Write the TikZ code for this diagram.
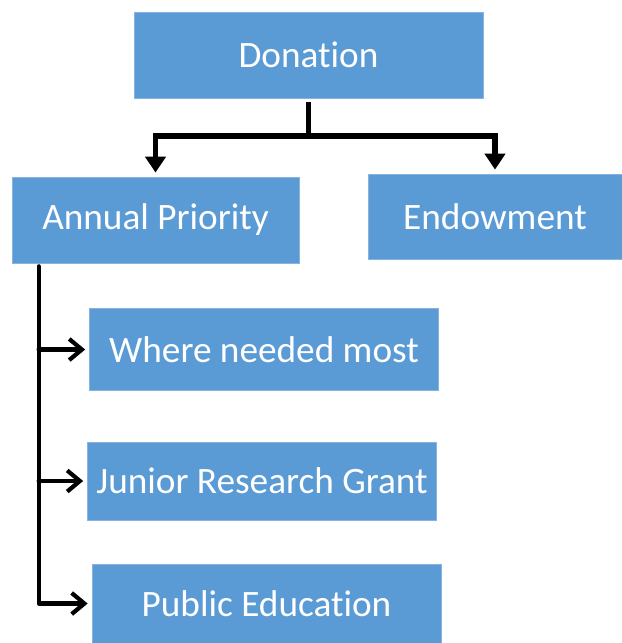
\documentclass[tikz,border=0pt]{standalone}
\usepackage{fontspec}
\setmainfont[Ligatures=NoCommon]{Carlito}
\usepackage{tikz}
\usetikzlibrary{arrows.meta}
\usetikzlibrary{positioning}
\definecolor{boxblue}{RGB}{91,155,213}
\tikzset{every node/.style={font=\fontsize{26.5}{31}\selectfont}}
\tikzset{fundbox/.style={fill=boxblue,draw=boxblue!75!white,line width=0.5pt,
  text=white,inner sep=0pt}}
\tikzset{trunk/.style={line width=3.6pt,line join=miter}}
\tikzset{branch/.style={line width=3pt,line cap=round,line join=round}}

\begin{document}
\begin{tikzpicture}[x=0.025cm,y=-0.025cm]
\useasboundingbox (0,0) rectangle (622,643);

% boxes
\node[fundbox,minimum width=349*0.025cm,minimum height=86*0.025cm] (don) at (308.5,55) {Donation};
\node[fundbox,minimum width=287*0.025cm,minimum height=86*0.025cm] (ann) at (155.5,220) {Annual Priority};
\node[fundbox,minimum width=254*0.025cm,minimum height=85*0.025cm] (endw) at (495,216.5) {Endowment};
\node[fundbox,minimum width=349*0.025cm,minimum height=82*0.025cm] (where) at (264,349.5) {Where needed most};
\node[fundbox,minimum width=349*0.025cm,minimum height=78*0.025cm] (junior) at (262,481) {Junior Research Grant};
\node[fundbox,minimum width=349*0.025cm,minimum height=79*0.025cm] (pub) at (266.5,603.5) {Public Education};

% donation split
\coordinate (fork) at (308.5,136);
\draw[trunk] (don.south) ++(0,4) -- (fork);
\draw[trunk,-{Triangle[width=20*0.025cm,length=16*0.025cm]},shorten >=4*0.025cm] (fork) -| (ann.north);
\draw[trunk,-{Triangle[width=20*0.025cm,length=16*0.025cm]},shorten >=4*0.025cm] (fork) -| (endw.north);

% annual priority rail
\path (ann.south west) ++(27,3) coordinate (railtop);
\draw[branch,-{Straight Barb[length=9pt,width=15pt]},shorten >=4*0.025cm] (railtop) |- (pub.west);
\draw[branch,-{Straight Barb[length=9pt,width=15pt]},shorten >=4*0.025cm] (railtop |- where.west) -- (where.west);
\draw[branch,-{Straight Barb[length=9pt,width=15pt]},shorten >=4*0.025cm] (railtop |- junior.west) -- (junior.west);

\end{tikzpicture}
\end{document}
